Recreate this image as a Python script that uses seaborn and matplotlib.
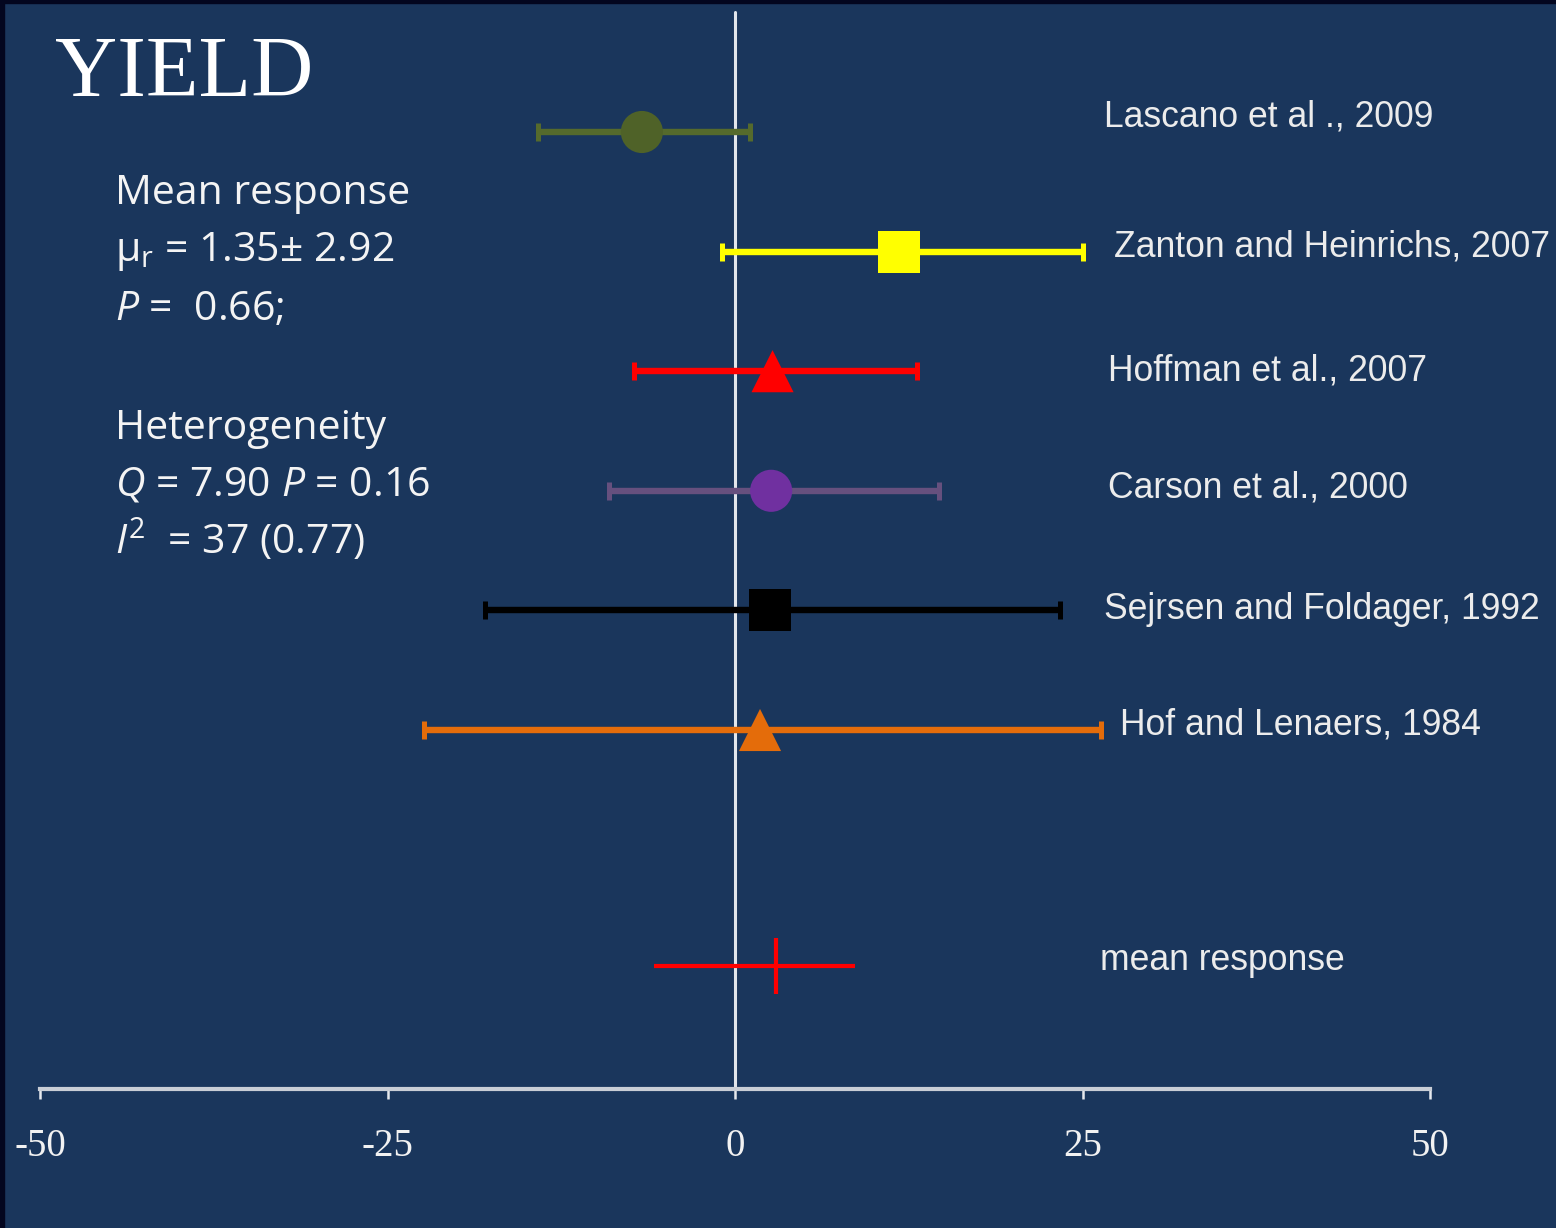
import numpy as np
import pandas as pd
import seaborn as sns
import matplotlib.pyplot as plt
from matplotlib.patches import Rectangle

# forest plot data
studies = ["Lascano et al ., 2009", "Zanton and Heinrichs, 2007", "Hoffman et al., 2007",
           "Carson et al., 2000", "Sejrsen and Foldager, 1992", "Hof and Lenaers, 1984"]
effect = [-6.7, 11.8, 2.7, 2.6, 2.5, 1.8]
ci_low = [-14.2, -0.9, -7.3, -9.1, -18.0, -22.4]
ci_high = [1.1, 25.0, 13.1, 14.7, 23.4, 26.3]
shapes = ["o", "s", "^", "o", "s", "^"]
marker_colors = ["#4f6228", "#ffff00", "#ff0000", "#7030a0", "#000000", "#e46c0a"]
bar_colors = ["#556a2c", "#ffff00", "#ff0000", "#66507e", "#000000", "#e46c0a"]

mean_effect = 2.95
mean_low = -5.8
mean_high = 8.6

xticks = [-50, -25, 0, 25, 50]
xticklabels = ["-50", "-25", "0", "25", "50"]

df = pd.DataFrame({"study": studies, "effect": effect, "row": range(len(studies)),
                   "shape": shapes})

bg = "#1a365c"
sns.set_theme(style="white")
plt.rcParams["mathtext.fontset"] = "custom"
plt.rcParams["mathtext.rm"] = "Open Sans"
plt.rcParams["mathtext.it"] = "Open Sans:italic"

W, H = 1556, 1228
fig = plt.figure(figsize=(W / 100, H / 100), dpi=100, facecolor=bg)
ax = fig.add_axes([0, 0, 1, 1], facecolor=bg)

# pixel -> data mapping of the original slide
x0px, xscale = 735, 13.9
y0px, yscale = 132, 119.6
ax.set_xlim(-x0px / xscale, (W - x0px) / xscale)
ax.set_ylim((H - y0px) / yscale, -y0px / yscale)
axis_y = 8.0
mean_row = 7

# zero line
ax.plot([0, 0], [-1.0, axis_y], color="#e2e6ec", lw=2.2, zorder=1)

# error bars
for i in range(len(studies)):
    ax.errorbar(effect[i], i, xerr=[[effect[i] - ci_low[i]], [ci_high[i] - effect[i]]],
                fmt="none", ecolor=bar_colors[i], elinewidth=4.6, capsize=6.5,
                capthick=3.6, zorder=2)

# point estimates
sns.scatterplot(data=df, x="effect", y="row", hue="study", style="study",
                palette=dict(zip(studies, marker_colors)),
                markers=dict(zip(studies, shapes)), s=920, linewidth=0,
                legend=False, ax=ax, zorder=3)

# mean response cross
ax.errorbar(mean_effect, mean_row - 0.025, xerr=[[mean_effect - mean_low], [mean_high - mean_effect]],
            fmt="|", color="#ff0000", ms=41, mew=3, elinewidth=3, capsize=0, zorder=3)

# bottom axis
for s in ["top", "left", "right"]:
    ax.spines[s].set_visible(False)
ax.spines["bottom"].set_position(("data", axis_y))
ax.spines["bottom"].set_bounds(-50, 50)
ax.spines["bottom"].set_color("#c9ced6")
ax.spines["bottom"].set_linewidth(3)
ax.set_xticks(xticks)
ax.set_xticklabels(xticklabels, family="Liberation Serif", fontsize=28, color="#f2f2f2")
ax.tick_params(axis="x", direction="out", length=7, width=1.8, color="#e6e9ee", pad=21,
               bottom=True)
ax.set_yticks([])
ax.set_xlabel("")
ax.set_ylabel("")

# study labels
label_x = [1104, 1114, 1108, 1108, 1104, 1120]
label_dy = [-15, -5, 0, -3, -1, -5]
for i, name in enumerate(studies):
    ax.text((label_x[i] - x0px) / xscale, i + label_dy[i] / yscale, name,
            family="Liberation Sans", fontsize=25.6, color="#ececec", va="center", ha="left")
ax.text((1100 - x0px) / xscale, mean_row - 9 / yscale, "mean response",
        family="Liberation Sans", fontsize=25.6, color="#ececec", va="center", ha="left")

# title and summary statistics
fig.text(55 / W, 1 - 96 / H, "YIELD", family="Liberation Serif", fontsize=62,
         color="white", va="baseline")
stats = [(204, "Mean response"),
         (261, r"μ$_{\mathrm{r}}$ = 1.35± 2.92"),
         (320, r"$\mathit{P}$ =  0.66;"),
         (439, "Heterogeneity"),
         (496, r"$\mathit{Q}$ = 7.90 $\mathit{P}$ = 0.16"),
         (554, r"$\mathit{I}^{\mathrm{2}}$  = 37 (0.77)")]
for ypx, txt in stats:
    fig.text(115 / W, 1 - ypx / H, txt, family="Open Sans", fontsize=29.5, color="#f4f4f4",
             va="baseline")

# dark slide edge
fig.add_artist(Rectangle((0, 0), 4 / W, 1, transform=fig.transFigure, color="#03061f"))
fig.add_artist(Rectangle((0, 1 - 3 / H), 1, 3 / H, transform=fig.transFigure, color="#03061f"))

fig.savefig("out.png", dpi=100, facecolor=bg)
